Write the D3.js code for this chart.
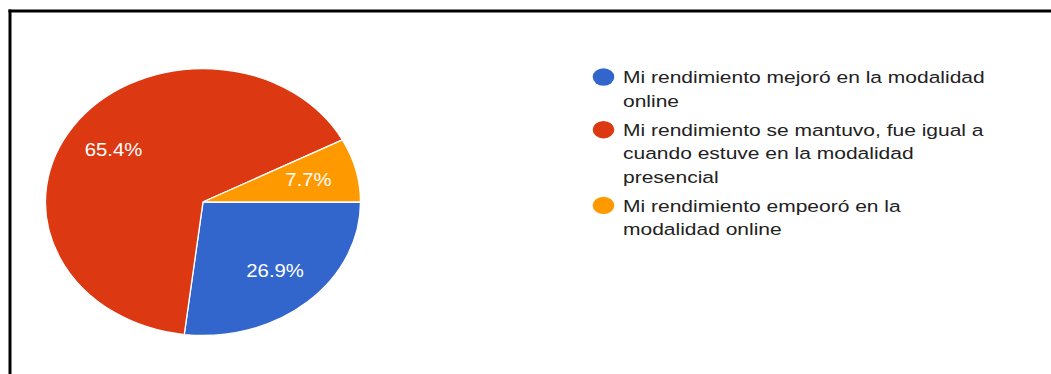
<!DOCTYPE html>
<html>
<head>
<meta charset="utf-8">
<script src="https://cdn.jsdelivr.net/npm/d3@7"></script>
<style>
  html, body { margin: 0; padding: 0; background: #fff; }
  svg { display: block; }
</style>
</head>
<body>
<svg id="chart" width="1051" height="374"></svg>
<script>
// Survey answers: how did performance change in online classes
const categories = [
  "Mi rendimiento mejoró en la modalidad online",
  "Mi rendimiento se mantuvo, fue igual a cuando estuve en la modalidad presencial",
  "Mi rendimiento empeoró en la modalidad online"
];
// Legend text broken into the lines it is shown on
const legendLines = [
  ["Mi rendimiento mejoró en la modalidad", "online"],
  ["Mi rendimiento se mantuvo, fue igual a", "cuando estuve en la modalidad", "presencial"],
  ["Mi rendimiento empeoró en la", "modalidad online"]
];
const values = [26.9, 65.4, 7.7];
const colors = ["#3366cc", "#dc3912", "#ff9900"];

const svg = d3.select("#chart");

// Frame
svg.append("line").attr("x1", 8.5).attr("x2", 1051).attr("y1", 11).attr("y2", 11)
  .attr("stroke", "#000").attr("stroke-width", 3);
svg.append("line").attr("x1", 10).attr("x2", 10).attr("y1", 9.5).attr("y2", 374)
  .attr("stroke", "#000").attr("stroke-width", 3);

// Pie (drawn as an ellipse: stretched horizontally)
const cx = 203, cy = 202, ry = 133.5, rx = 157.5;
const sx = rx / ry;

const pie = d3.pie().sort(null).value(d => d)
  .startAngle(Math.PI / 2).endAngle(Math.PI / 2 + 2 * Math.PI);
const arcs = pie(values);
const arc = d3.arc().innerRadius(0).outerRadius(ry);
const labelArc = d3.arc().innerRadius(ry * 0.69).outerRadius(ry * 0.69);

const pieG = svg.append("g").attr("transform", `translate(${cx},${cy}) scale(${sx},1)`);
pieG.selectAll("path").data(arcs).join("path")
  .attr("d", arc)
  .attr("fill", (d, i) => colors[i])
  .attr("stroke", "#fff")
  .attr("stroke-width", 1.3)
  .attr("vector-effect", "non-scaling-stroke");

const labelG = svg.append("g").attr("transform", `translate(${cx},${cy})`);
labelG.selectAll("text").data(arcs).join("text")
  .attr("transform", d => {
    const [x, y] = labelArc.centroid(d);
    return `translate(${x * sx},${y}) scale(1.13,1)`;
  })
  .attr("dy", "0.36em")
  .attr("text-anchor", "middle")
  .attr("fill", "#fff")
  .attr("font-family", "Liberation Sans, Arial, sans-serif")
  .attr("font-size", 18)
  .text(d => d.data.toFixed(1) + "%");

// Legend (also stretched horizontally)
const legendX = 603.5, legendTextX = 623;
const itemTop = [83.3, 136, 211.7];
const lineGap = 23.5;
const legendFont = 17;

const legend = svg.append("g");
const items = legend.selectAll("g.item").data(categories).join("g").attr("class", "item");

items.append("ellipse")
  .attr("cx", legendX)
  .attr("cy", (d, i) => itemTop[i] - 6.3)
  .attr("rx", 10.8)
  .attr("ry", 8.7)
  .attr("fill", (d, i) => colors[i]);

const texts = items.append("text")
  .attr("font-family", "Liberation Sans, Arial, sans-serif")
  .attr("font-size", legendFont)
  .attr("fill", "#222");

texts.each(function(d, i) {
  d3.select(this).selectAll("tspan").data(legendLines[i]).join("tspan")
    .attr("x", 0)
    .attr("y", (t, j) => itemTop[i] + j * lineGap)
    .text(t => t);
});

// Stretch text horizontally so the first line spans its full width
const firstLine = texts.node().querySelector("tspan");
const w = firstLine.getComputedTextLength();
const tsx = 362 / w;
texts.attr("transform", `translate(${legendTextX},0) scale(${tsx},1)`);
</script>
</body>
</html>
